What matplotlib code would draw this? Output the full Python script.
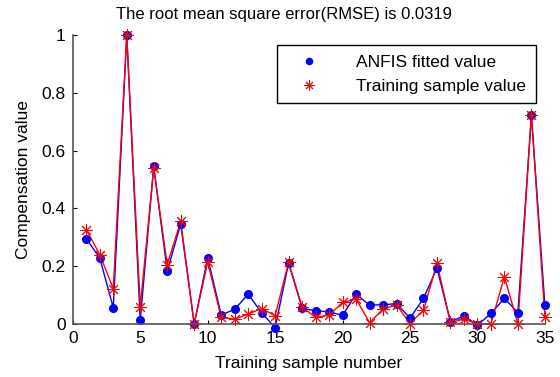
import numpy as np
import matplotlib.pyplot as plt

plt.rcParams['font.family'] = ['Liberation Sans', 'DejaVu Sans']

# sample index 1..35
sample_no = list(range(1, 36))

# ANFIS output (blue dots)
anfis_fit = [0.295, 0.228, 0.056, 1.000, 0.012, 0.545, 0.183, 0.345, 0.000, 0.229,
             0.031, 0.050, 0.103, 0.038, -0.013, 0.210, 0.054, 0.045, 0.042, 0.029,
             0.103, 0.065, 0.066, 0.070, 0.020, 0.088, 0.193, 0.007, 0.028, -0.005,
             0.036, 0.088, 0.039, 0.722, 0.065]

# training targets (red asterisks)
train_val = [0.326, 0.240, 0.122, 1.000, 0.060, 0.540, 0.205, 0.355, 0.000, 0.214,
             0.022, 0.016, 0.034, 0.053, 0.028, 0.213, 0.059, 0.022, 0.030, 0.074,
             0.086, 0.004, 0.051, 0.066, 0.001, 0.047, 0.210, 0.005, 0.016, 0.000,
             0.000, 0.163, 0.000, 0.724, 0.024]

fig = plt.figure(figsize=(5.6, 3.77), dpi=100)
ax = fig.add_axes([0.130, 0.141, 0.843, 0.766])

ax.plot(sample_no, anfis_fit, '-', color='b', lw=1.0, clip_on=False)
ax.plot(sample_no, train_val, '-', color='r', lw=1.0, clip_on=False)
ax.plot(sample_no, anfis_fit, 'o', color='b', ms=5.5, ls='none',
        clip_on=False, label='ANFIS fitted value')
ax.plot(sample_no, train_val, marker=(8, 2, 0), color='r', ms=9, mew=0.7,
        ls='none', clip_on=False, label='Training sample value')

ax.set_xlim(0, 35)
ax.set_ylim(0, 1)
ax.set_xticks(np.arange(0, 36, 5))
ax.set_yticks([0, 0.2, 0.4, 0.6, 0.8, 1])
ax.set_yticklabels(['0', '0.2', '0.4', '0.6', '0.8', '1'])
ax.tick_params(direction='in', length=3, labelsize=12.5, color='k', pad=5)

for side in ['top', 'right']:
    ax.spines[side].set_visible(False)
for side in ['left', 'bottom']:
    ax.spines[side].set_color('#555555')
    ax.spines[side].set_linewidth(1.2)

ax.set_xlabel('Training sample number', fontsize=12.5, labelpad=7)
ax.set_ylabel('Compensation value', fontsize=12.5, labelpad=8)
fig.text(0.508, 0.962, 'The root mean square error(RMSE) is 0.0319',
         fontsize=12, ha='center', va='center')

leg = ax.legend(loc='upper right', bbox_to_anchor=(0.981, 0.965), fontsize=12.5,
                fancybox=False, edgecolor='k', framealpha=1, handletextpad=1.4,
                borderpad=0.55, labelspacing=0.5, handlelength=2.6,
                borderaxespad=0, markerscale=0.8)
leg.get_frame().set_linewidth(1.0)

fig.savefig('out.png', dpi=100)
